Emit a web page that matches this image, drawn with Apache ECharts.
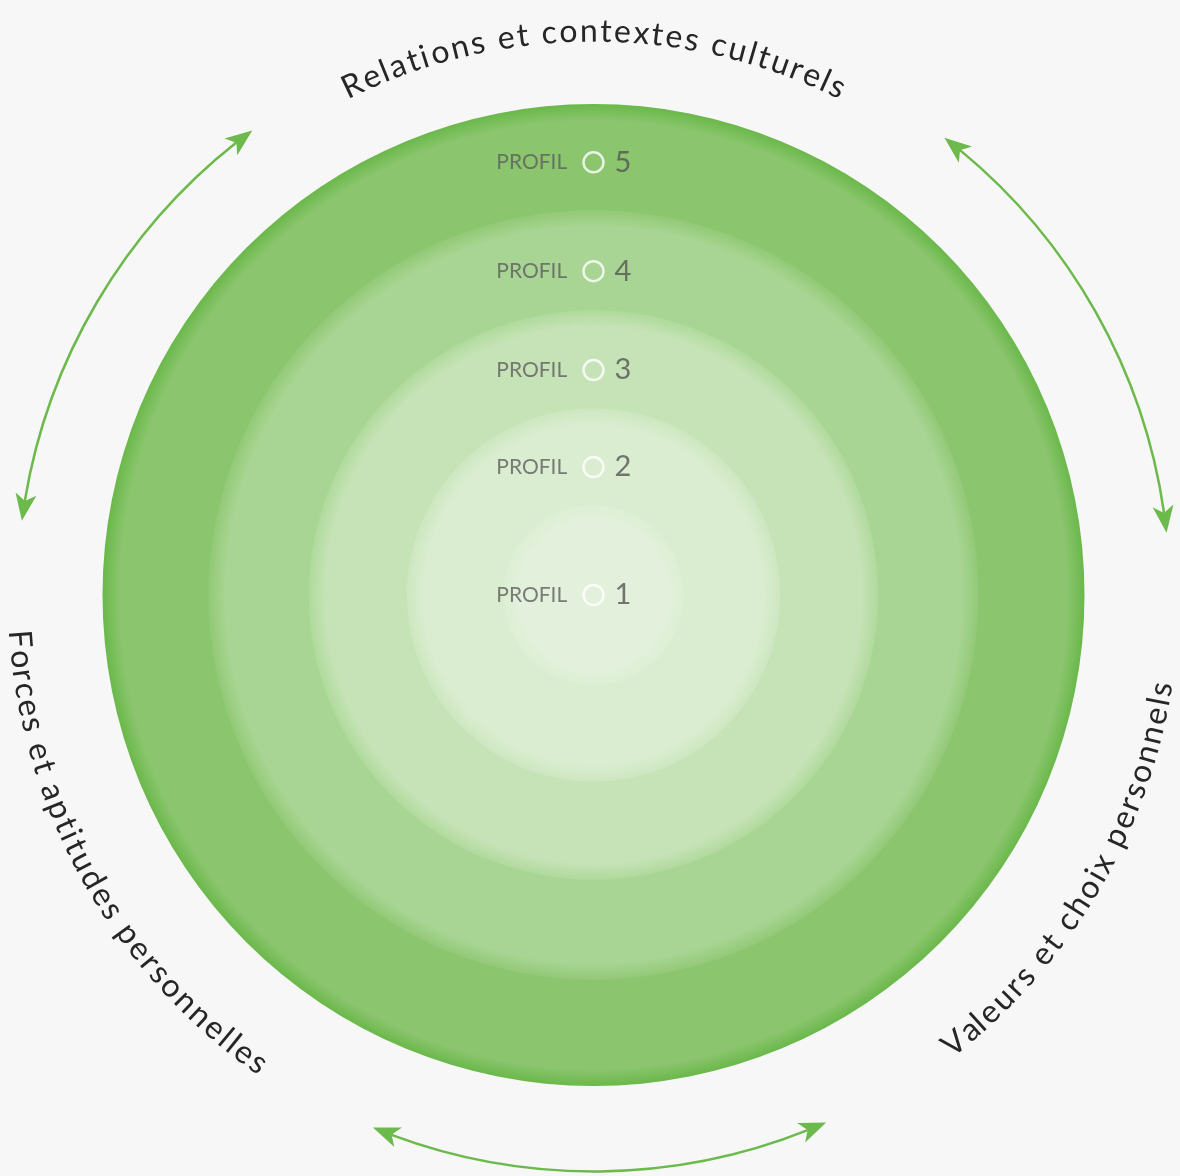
<!DOCTYPE html>
<html>
<head>
<meta charset="utf-8">
<script src="https://cdn.jsdelivr.net/npm/echarts@6/dist/echarts.min.js"></script>
<style>
html, body { margin: 0; padding: 0; background: #f7f7f7; }
#chart { width: 1180px; height: 1176px; }
</style>
</head>
<body>
<div id="chart"></div>
<script>
// profils, du centre vers l'extérieur
const profiles = ['1', '2', '3', '4', '5'];
const ringOuter = [0.92, 1.9, 2.9, 3.92, 5];
const ringColors = ['#e3f1dc', '#daedd0', '#c6e3b7', '#a8d593', '#8bc56e'];
const ringRims = ['#dcefd3', '#cde7c0', '#b0da9c', '#92c976', '#6ab84a'];

// textes courbes autour du cercle (angle en degrés, 0 = haut, sens horaire)
const themes = ['Relations et contextes culturels', 'Valeurs et choix personnels', 'Forces et aptitudes personnelles'];
const themeAngles = [0, 120.5, 240.7];

// flèches doubles (angle de début, angle de fin)
const arrowArcs = [[37.5, 83.8], [156.2, 202.5], [277.4, 323.7]];

const fontFamily = 'Lato, "Open Sans", sans-serif';
const themeFont = 32;
const green = '#6cb94c';

const myChart = echarts.init(document.getElementById('chart'));
const measureCtx = document.createElement('canvas').getContext('2d');

function charLayout(text) {
    measureCtx.font = themeFont + 'px ' + fontFamily;
    const natural = measureCtx.measureText(text).width;
    const width = text.length * 16.2;
    const spacing = (width - natural) / (text.length - 1);
    const chars = [];
    for (let i = 0; i < text.length; i++) {
        const x0 = measureCtx.measureText(text.slice(0, i)).width;
        const w = measureCtx.measureText(text[i]).width;
        chars.push({ ch: text[i], mid: x0 + i * spacing + w / 2 });
    }
    return { chars: chars, width: width };
}

// position du libellé dans chaque anneau
const labelRadius = ringOuter.map((r, i) => {
    if (i === 0) return 0;
    const r0 = ringOuter[i - 1];
    return r0 + (i === 4 ? 0.45 : 0.39) * (r - r0);
});
const profileData = profiles.map((p, i) => ({ name: p, value: [labelRadius[i], 0] }));

const option = {
    backgroundColor: '#f7f7f7',
    animation: false,
    polar: { center: [593.5, 595], radius: 491 },
    angleAxis: { type: 'value', min: 0, max: 360, startAngle: 90, clockwise: true, show: false },
    radiusAxis: { type: 'value', min: 0, max: 5, show: false },
    series: [
        {
            // anneaux (disques superposés, du plus grand au plus petit)
            type: 'custom',
            coordinateSystem: 'polar',
            silent: true,
            z: 1,
            data: ringOuter.map((r, i) => [r, 0, i]).reverse(),
            renderItem: function (params, api) {
                const cs = params.coordSys;
                const idx = api.value(2);
                const edge = api.coord([api.value(0), 0]);
                const R = Math.hypot(edge[0] - cs.cx, edge[1] - cs.cy);
                const soft = Math.min(17 / R, 0.5);
                return {
                    type: 'circle',
                    shape: { cx: cs.cx, cy: cs.cy, r: R },
                    style: {
                        fill: new echarts.graphic.RadialGradient(cs.cx, cs.cy, R, [
                            { offset: 0, color: ringColors[idx] },
                            { offset: 1 - soft, color: ringColors[idx] },
                            { offset: 1, color: ringRims[idx] }
                        ], true)
                    }
                };
            }
        },
        {
            // flèches
            type: 'custom',
            coordinateSystem: 'polar',
            silent: true,
            z: 2,
            data: arrowArcs.map(d => [5.87, d[0], d[1]]),
            renderItem: function (params, api) {
                const cs = params.coordSys;
                const r = api.value(0);
                const p0 = api.coord([r, api.value(1)]);
                const p1 = api.coord([r, api.value(2)]);
                const R = Math.hypot(p0[0] - cs.cx, p0[1] - cs.cy);
                const t0 = Math.atan2(p0[1] - cs.cy, p0[0] - cs.cx);
                let t1 = Math.atan2(p1[1] - cs.cy, p1[0] - cs.cx);
                while (t1 < t0) t1 += 2 * Math.PI;
                const head = 27, halfW = 10.5, notch = 7;
                const onArc = t => [cs.cx + R * Math.cos(t), cs.cy + R * Math.sin(t)];
                function arrowHead(tip, base) {
                    let dx = tip[0] - base[0], dy = tip[1] - base[1];
                    const len = Math.hypot(dx, dy);
                    dx /= len; dy /= len;
                    const nx = -dy, ny = dx;
                    return {
                        type: 'polygon',
                        shape: {
                            points: [
                                tip,
                                [tip[0] - head * dx + halfW * nx, tip[1] - head * dy + halfW * ny],
                                [tip[0] - (head - notch) * dx, tip[1] - (head - notch) * dy],
                                [tip[0] - head * dx - halfW * nx, tip[1] - head * dy - halfW * ny]
                            ]
                        },
                        style: { fill: green }
                    };
                }
                const dHead = head / R;
                const dLine = (head - notch) / R;
                return {
                    type: 'group',
                    children: [
                        {
                            type: 'arc',
                            shape: { cx: cs.cx, cy: cs.cy, r: R, startAngle: t0 + dLine, endAngle: t1 - dLine, clockwise: true },
                            style: { stroke: green, lineWidth: 2.5, fill: null }
                        },
                        arrowHead(onArc(t0), onArc(t0 + dHead)),
                        arrowHead(onArc(t1), onArc(t1 - dHead))
                    ]
                };
            }
        },
        {
            // textes courbes
            type: 'custom',
            coordinateSystem: 'polar',
            silent: true,
            z: 3,
            data: themes.map((t, i) => [5.8, themeAngles[i], i]),
            renderItem: function (params, api) {
                const cs = params.coordSys;
                const idx = api.value(2);
                const ac = api.value(1);
                const flip = ac > 90 && ac < 270;
                const rUnits = flip ? 5.86 : 5.74;
                const pc = api.coord([rUnits, ac]);
                const R = Math.hypot(pc[0] - cs.cx, pc[1] - cs.cy);
                const lay = charLayout(themes[idx]);
                const toDeg = 180 / Math.PI;
                const spanDeg = lay.width / R * toDeg;
                const children = lay.chars.map(c => {
                    const off = c.mid / R * toDeg;
                    const a = flip ? ac + spanDeg / 2 - off : ac - spanDeg / 2 + off;
                    const p = api.coord([rUnits, a]);
                    const th = Math.atan2(p[1] - cs.cy, p[0] - cs.cx);
                    const rot = flip ? Math.PI / 2 - th : -(th + Math.PI / 2);
                    return {
                        type: 'text',
                        x: p[0],
                        y: p[1],
                        rotation: rot,
                        style: {
                            text: c.ch,
                            fontSize: themeFont,
                            fontFamily: fontFamily,
                            fill: '#262626',
                            align: 'center',
                            verticalAlign: 'middle'
                        }
                    };
                });
                return { type: 'group', children: children };
            }
        },
        {
            // marqueurs + "PROFIL"
            type: 'scatter',
            coordinateSystem: 'polar',
            silent: true,
            z: 4,
            symbol: 'circle',
            symbolSize: 20,
            itemStyle: { color: 'rgba(0,0,0,0)', borderColor: '#ffffff', borderWidth: 2.5 },
            label: {
                show: true,
                position: 'left',
                distance: 15,
                formatter: 'PROFIL',
                color: '#5e5e5e',
                fontSize: 21,
                fontFamily: fontFamily
            },
            data: profileData
        },
        {
            // numéros
            type: 'scatter',
            coordinateSystem: 'polar',
            silent: true,
            z: 4,
            symbol: 'circle',
            symbolSize: 20,
            itemStyle: { color: 'rgba(0,0,0,0)', borderWidth: 0 },
            label: {
                show: true,
                position: 'right',
                distance: 11,
                formatter: '{b}',
                color: '#555555',
                fontSize: 29,
                fontFamily: fontFamily
            },
            data: profileData
        }
    ]
};

option && myChart.setOption(option);
window.addEventListener('resize', function () {
    myChart && myChart.resize();
});
</script>
</body>
</html>
